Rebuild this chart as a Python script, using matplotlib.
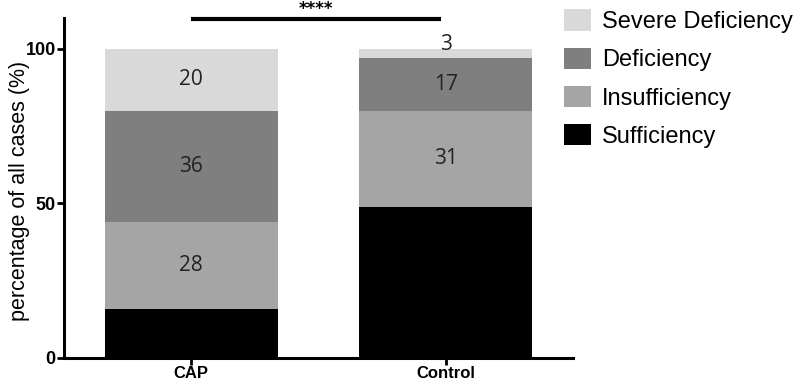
import numpy as np
import matplotlib.pyplot as plt
import matplotlib.transforms as mtransforms
from matplotlib.patches import Patch

groups = ['CAP', 'Control']
categories = ['Sufficiency', 'Insufficiency', 'Deficiency', 'Severe Deficiency']
values = {
    'Sufficiency': [16, 49],
    'Insufficiency': [28, 31],
    'Deficiency': [36, 17],
    'Severe Deficiency': [20, 3],
}
colors = {
    'Sufficiency': '#000000',
    'Insufficiency': '#a5a5a5',
    'Deficiency': '#7f7f7f',
    'Severe Deficiency': '#d9d9d9',
}
shown_labels = {
    'Sufficiency': [None, None],
    'Insufficiency': [28, 31],
    'Deficiency': [36, 17],
    'Severe Deficiency': [20, 3],
}

fig = plt.figure(figsize=(8, 3.89), dpi=100)
ax = fig.add_axes([0.08, 0.0797, 0.636, 0.874])

x = np.arange(len(groups))
bottom = np.zeros(len(groups))
for cat in categories:
    vals = np.array(values[cat], dtype=float)
    ax.bar(x, vals, bottom=bottom, width=0.68, color=colors[cat], edgecolor='none')
    for i, lab in enumerate(shown_labels[cat]):
        if lab is None:
            continue
        yc = bottom[i] + vals[i] / 2
        if vals[i] < 5:
            yc = bottom[i] + vals[i] + 1.5
        ax.text(x[i], yc, str(lab), ha='center', va='center', fontsize=15,
                family='Open Sans', color='#222222')
    bottom += vals

ax.set_xlim(-0.5, 1.5)
ax.set_ylim(0, 110)
ax.set_yticks([0, 50, 100])
ax.set_xticks(x)
ax.set_xticklabels(groups, fontweight='bold', fontsize=12, family='Liberation Sans')
for t in ax.get_yticklabels():
    t.set_fontweight('bold')
    t.set_fontsize(13)
    t.set_family('Liberation Sans')
ax.tick_params(width=2, length=5, pad=1)
ax.set_ylabel('percentage of all cases (%)', fontsize=15.5, family='Liberation Sans')
ax.yaxis.set_label_coords(-0.067, 0.49)
for s in ['top', 'right']:
    ax.spines[s].set_visible(False)
for s in ['left', 'bottom']:
    ax.spines[s].set_linewidth(2.2)

# significance bar
ax.plot([0, 0.98], [109.8, 109.8], color='black', lw=3, clip_on=False, solid_capstyle='butt')
trans = mtransforms.blended_transform_factory(ax.transData, fig.transFigure)
ax.text(0.49, 1.0, '****', transform=trans, ha='center', va='top', fontsize=12,
        fontweight='bold', clip_on=False)

handles = [Patch(facecolor=colors[c], edgecolor='none', label=c) for c in categories[::-1]]
fig.legend(handles=handles, loc='upper left', bbox_to_anchor=(0.699, 0.988), frameon=False,
           prop={'family': 'Liberation Sans', 'size': 17}, handlelength=1.15, handleheight=1.0,
           handletextpad=0.45, labelspacing=0.62, borderpad=0.2, borderaxespad=0)

fig.savefig('out.png', dpi=100)
